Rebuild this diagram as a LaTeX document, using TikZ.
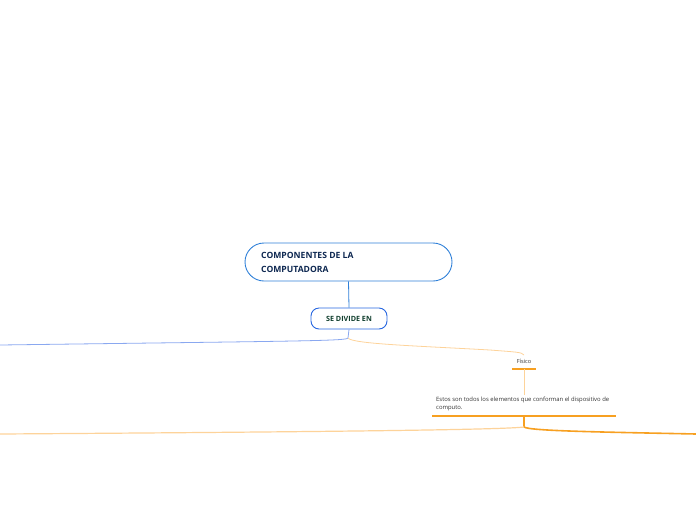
\documentclass[tikz,border=0pt]{standalone}
\usepackage{fontspec}
\setmainfont{Open Sans}
\definecolor{mainblue}{HTML}{2F80D8}
\definecolor{navy}{HTML}{0D2750}
\definecolor{dgreen}{HTML}{0E3D2C}
\definecolor{lblue}{HTML}{8AA8F0}
\definecolor{lorange}{HTML}{FDD39A}
\definecolor{orange}{HTML}{F7A021}
\definecolor{greytext}{HTML}{333333}
\begin{document}
\begin{tikzpicture}[x=1pt,y=-1pt,
  topicbox/.style={draw=mainblue,line width=0.9pt,rounded corners=19pt,minimum width=207pt,minimum height=38pt,inner sep=0pt},
  subbox/.style={draw=mainblue!80!blue,line width=0.9pt,rounded corners=8pt,minimum width=76pt,minimum height=21pt,inner sep=0pt},
  smalltext/.style={font=\fontsize{5.9pt}{8pt}\selectfont,text=greytext,inner sep=0pt,align=left,anchor=north west},
  conn/.style={line width=0.8pt}]
\useasboundingbox (0,0) rectangle (696,520);
\node[topicbox] (main) at (348.5,262) {};
\node[anchor=west,align=left,font=\fontsize{8.6pt}{14pt}\selectfont\bfseries,text=navy,inner sep=0pt] (maintext) at (261,262) {COMPONENTES DE LA\\COMPUTADORA};
\node[subbox] (sub) at (349,318.5) {\fontsize{7.2pt}{8pt}\selectfont\bfseries\color{dgreen}SE DIVIDE EN};
\draw[mainblue,conn] (main.south) -- (sub.north);
\coordinate (split) at (348,338);
\coordinate (leftend) at (0,345);
\coordinate (fisicotop) at (524,355);
\draw[lblue,conn] (sub.south) -- (split) .. controls (347,341) and (300,341) .. (leftend);
\draw[lorange,conn] (split) .. controls (352,344) and (420,346) .. (490,350) .. controls (515,352) and (522,352) .. (fisicotop);
\node[font=\fontsize{5.6pt}{6pt}\selectfont,text=greytext,inner sep=0pt] (fisico) at (524,361.5) {Físico};
\coordinate (fu1) at (512,369);
\coordinate (fu2) at (536,369);
\draw[orange,line width=1.2pt] (fu1) -- (fu2);
\coordinate (fumid) at (524,369);
\coordinate (desctop) at (524,395);
\draw[lorange,conn] (fumid) -- (desctop);
\node[smalltext] (desc) at (436,397) {Estos son todos los elementos que conforman el dispositivo de\\computo.};
\coordinate (du1) at (432,416);
\coordinate (du2) at (616,416);
\draw[orange,line width=1.2pt] (du1) -- (du2);
\coordinate (dumid) at (524,416);
\coordinate (dsplit) at (524,427);
\draw[orange,line width=1.3pt] (dumid) -- (dsplit);
\draw[lorange,line width=1.2pt] (dsplit) .. controls (500,430) and (300,432) .. (0,434);
\draw[orange,line width=1.6pt] (dsplit) .. controls (530,431) and (600,432) .. (696,434);
\end{tikzpicture}
\end{document}
